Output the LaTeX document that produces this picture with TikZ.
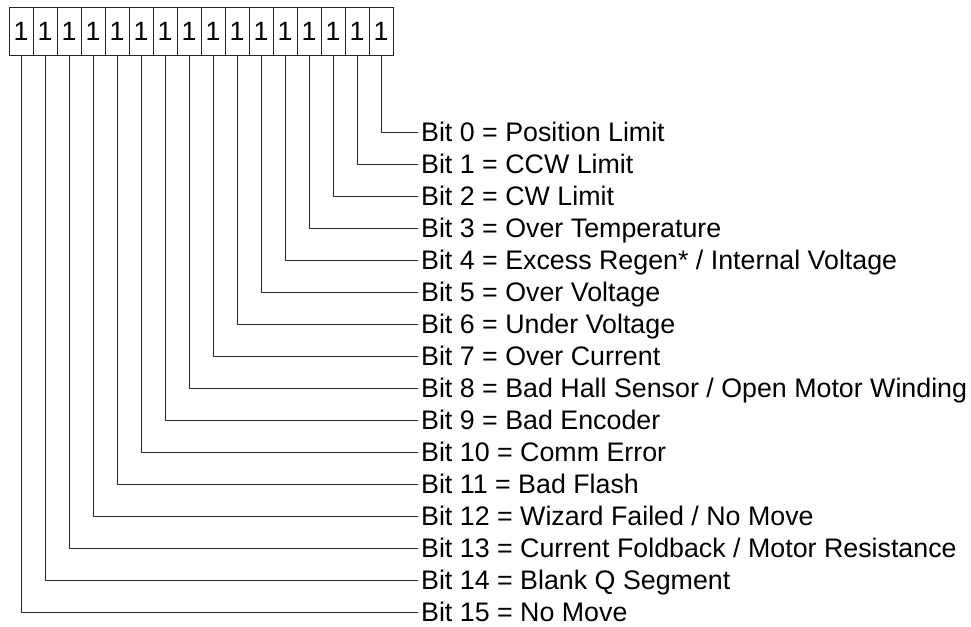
\documentclass[tikz,border=0pt]{standalone}
\usepackage{fontspec}
\setmainfont{Liberation Sans}
\usetikzlibrary{positioning}

\begin{document}
\begin{tikzpicture}[
    x=0.75pt, y=-0.75pt,
    line width=0.75pt,
    bitbox/.style={rectangle, draw=black!85, inner sep=0pt, minimum width=18pt, minimum height=36pt, font=\fontsize{19.9}{24}\selectfont},
    bitlabel/.style={anchor=west, inner sep=2pt, text height=14.4pt, text depth=0pt, font=\fontsize{20.1}{24}\selectfont},
    lead/.style={draw=black!85}
]
\useasboundingbox (0,0) rectangle (971,626);

% register boxes, bit 15 on the left
\node[bitbox] (b15) at (21,31) {1};
\node[bitbox] (b14) at (45,31) {1};
\node[bitbox] (b13) at (69,31) {1};
\node[bitbox] (b12) at (93,31) {1};
\node[bitbox] (b11) at (117,31) {1};
\node[bitbox] (b10) at (141,31) {1};
\node[bitbox] (b9) at (165,31) {1};
\node[bitbox] (b8) at (189,31) {1};
\node[bitbox] (b7) at (213,31) {1};
\node[bitbox] (b6) at (237,31) {1};
\node[bitbox] (b5) at (261,31) {1};
\node[bitbox] (b4) at (285,31) {1};
\node[bitbox] (b3) at (309,31) {1};
\node[bitbox] (b2) at (333,31) {1};
\node[bitbox] (b1) at (357,31) {1};
\node[bitbox] (b0) at (381,31) {1};

% bit descriptions
\node[bitlabel] (l0) at (418,132) {Bit 0 = Position Limit};
\node[bitlabel] (l1) at (418,164) {Bit 1 = CCW Limit};
\node[bitlabel] (l2) at (418,196) {Bit 2 = CW Limit};
\node[bitlabel] (l3) at (418,228) {Bit 3 = Over Temperature};
\node[bitlabel] (l4) at (418,260) {Bit 4 = Excess Regen* / Internal Voltage};
\node[bitlabel] (l5) at (418,292) {Bit 5 = Over Voltage};
\node[bitlabel] (l6) at (418,324) {Bit 6 = Under Voltage};
\node[bitlabel] (l7) at (418,356) {Bit 7 = Over Current};
\node[bitlabel] (l8) at (418,388) {Bit 8 = Bad Hall Sensor / Open Motor Winding};
\node[bitlabel] (l9) at (418,420) {Bit 9 = Bad Encoder};
\node[bitlabel] (l10) at (418,452) {Bit 10 = Comm Error};
\node[bitlabel] (l11) at (418,484) {Bit 11 = Bad Flash};
\node[bitlabel] (l12) at (418,516) {Bit 12 = Wizard Failed / No Move};
\node[bitlabel] (l13) at (418,548) {Bit 13 = Current Foldback / Motor Resistance};
\node[bitlabel] (l14) at (418,580) {Bit 14 = Blank Q Segment};
\node[bitlabel] (l15) at (418,612) {Bit 15 = No Move};

% leads from each box to its text
\draw[lead] (b0.south) |- (l0.west);
\draw[lead] (b1.south) |- (l1.west);
\draw[lead] (b2.south) |- (l2.west);
\draw[lead] (b3.south) |- (l3.west);
\draw[lead] (b4.south) |- (l4.west);
\draw[lead] (b5.south) |- (l5.west);
\draw[lead] (b6.south) |- (l6.west);
\draw[lead] (b7.south) |- (l7.west);
\draw[lead] (b8.south) |- (l8.west);
\draw[lead] (b9.south) |- (l9.west);
\draw[lead] (b10.south) |- (l10.west);
\draw[lead] (b11.south) |- (l11.west);
\draw[lead] (b12.south) |- (l12.west);
\draw[lead] (b13.south) |- (l13.west);
\draw[lead] (b14.south) |- (l14.west);
\draw[lead] (b15.south) |- (l15.west);

\end{tikzpicture}
\end{document}
